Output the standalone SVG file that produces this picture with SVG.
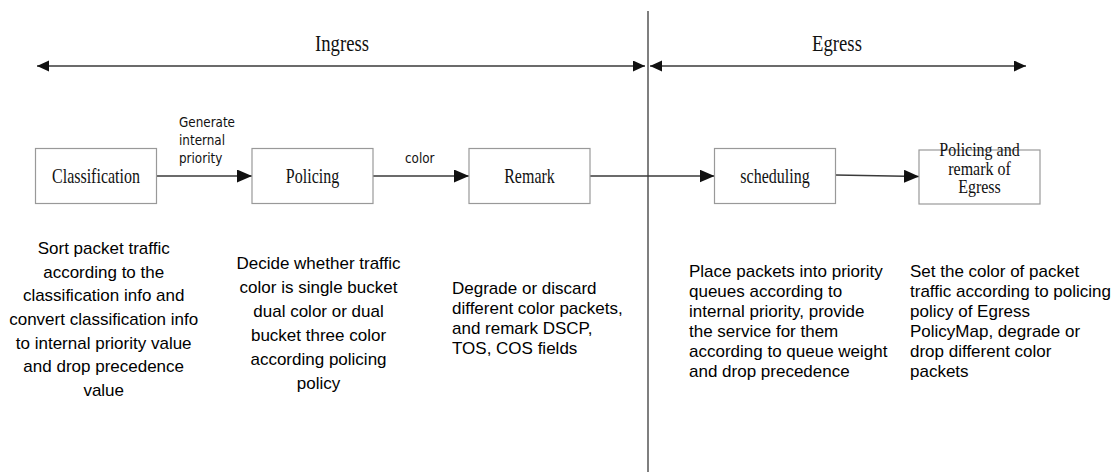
<svg xmlns="http://www.w3.org/2000/svg" width="1116" height="475" viewBox="0 0 1116 475">
<style>
.box{fill:#ffffff;stroke:#999999;stroke-width:1.2}
.ln{stroke:#3a3a3a;stroke-width:1.6;fill:none}
.sep{stroke:#555555;stroke-width:1.5}
.ser{font-family:"Liberation Serif","Times New Roman",serif;font-size:16px;fill:#111;text-anchor:middle}
.hdr{font-family:"Liberation Serif","Times New Roman",serif;font-size:18.7px;fill:#111;text-anchor:middle}
.lbl{font-family:"DejaVu Sans",Verdana,sans-serif;font-size:12px;fill:#111}
.desc{font-family:"Liberation Sans",Arial,sans-serif;font-size:17px;fill:#000}
.mid{text-anchor:middle}
</style>
<defs>
<marker id="ah" markerUnits="userSpaceOnUse" markerWidth="16" markerHeight="14" refX="15" refY="6.5" orient="auto-start-reverse">
<path d="M0,0 L15,6.5 L0,13 z" fill="#111"/>
</marker>
<marker id="ah2" markerUnits="userSpaceOnUse" markerWidth="13" markerHeight="12" refX="12" refY="5.5" orient="auto-start-reverse">
<path d="M0,0 L12,5.5 L0,11 z" fill="#111"/>
</marker>
</defs>

<g id="scope">
<line class="sep" x1="648" y1="11" x2="648" y2="472"/>
<line class="ln" x1="37" y1="66" x2="645" y2="66" marker-start="url(#ah2)" marker-end="url(#ah2)"/>
<line class="ln" x1="650" y1="66" x2="1026" y2="66" marker-start="url(#ah2)" marker-end="url(#ah2)"/>
<text class="hdr" transform="translate(342,50.5) scale(1,1.22)">Ingress</text>
<text class="hdr" transform="translate(837,50.5) scale(1,1.22)">Egress</text>
</g>

<g id="connectors">
<line class="ln" x1="156.5" y1="176" x2="252" y2="176" marker-end="url(#ah)"/>
<line class="ln" x1="373" y1="176" x2="469" y2="176" marker-end="url(#ah)"/>
<line class="ln" x1="590" y1="176" x2="714.5" y2="176" marker-end="url(#ah)"/>
<line class="ln" x1="835.5" y1="175" x2="919" y2="176.5" marker-end="url(#ah)"/>
<g class="lbl">
<text transform="translate(179,126.5) scale(1,1.18)">Generate</text>
<text transform="translate(179,145) scale(1,1.18)">internal</text>
<text transform="translate(179,163.3) scale(1,1.18)">priority</text>
<text transform="translate(405,163.3) scale(1,1.18)">color</text>
</g>
</g>

<g id="classification">
<rect class="box" x="35.5" y="148.5" width="121" height="55"/>
<text class="ser" transform="translate(96,182.5) scale(1,1.3)">Classification</text>
</g>
<g id="policing">
<rect class="box" x="252" y="148.5" width="121" height="55"/>
<text class="ser" transform="translate(312.5,182.5) scale(1,1.3)">Policing</text>
</g>
<g id="remark">
<rect class="box" x="469" y="148.5" width="121" height="55"/>
<text class="ser" transform="translate(529.5,182.5) scale(1,1.3)">Remark</text>
</g>
<g id="scheduling">
<rect class="box" x="714.5" y="148.5" width="121" height="55"/>
<text class="ser" transform="translate(775,182.5) scale(1,1.3)">scheduling</text>
</g>
<g id="egress-policing">
<rect class="box" x="919" y="150" width="121" height="54"/>
<text class="ser" transform="translate(979.5,156) scale(1,1.12)">Policing and</text>
<text class="ser" transform="translate(979.5,174.5) scale(1,1.12)">remark of</text>
<text class="ser" transform="translate(979.5,193) scale(1,1.12)">Egress</text>
</g>

<g id="desc-classification" class="desc mid">
<text x="103.7" y="254">Sort packet traffic</text>
<text x="103.7" y="277.7">according to the</text>
<text x="103.7" y="301.3">classification info and</text>
<text x="103.7" y="325">convert classification info</text>
<text x="103.7" y="348.7">to internal priority value</text>
<text x="103.7" y="372.3">and drop precedence</text>
<text x="103.7" y="396">value</text>
</g>
<g id="desc-policing" class="desc mid">
<text x="318.5" y="269">Decide whether traffic</text>
<text x="318.5" y="293">color is single bucket</text>
<text x="318.5" y="317">dual color or dual</text>
<text x="318.5" y="341">bucket three color</text>
<text x="318.5" y="365">according policing</text>
<text x="318.5" y="389">policy</text>
</g>
<g id="desc-remark" class="desc">
<text x="452" y="294">Degrade or discard</text>
<text x="452" y="314">different color packets,</text>
<text x="452" y="334">and remark DSCP,</text>
<text x="452" y="354">TOS, COS fields</text>
</g>
<g id="desc-scheduling" class="desc">
<text x="689" y="276.5">Place packets into priority</text>
<text x="689" y="296.5">queues according to</text>
<text x="689" y="316.5">internal priority, provide</text>
<text x="689" y="336.5">the service for them</text>
<text x="689" y="356.5">according to queue weight</text>
<text x="689" y="376.5">and drop precedence</text>
</g>
<g id="desc-egress" class="desc">
<text x="910" y="276.5">Set the color of packet</text>
<text x="910" y="296.5">traffic according to policing</text>
<text x="910" y="316.5">policy of Egress</text>
<text x="910" y="336.5">PolicyMap, degrade or</text>
<text x="910" y="356.5">drop different color</text>
<text x="910" y="376.5">packets</text>
</g>
</svg>
